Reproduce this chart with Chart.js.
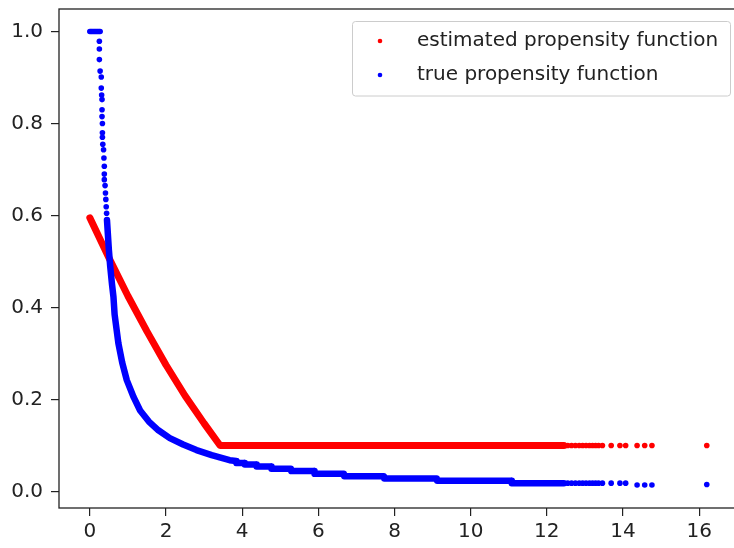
<!DOCTYPE html>
<html>
<head>
<meta charset="utf-8">
<script src="https://cdn.jsdelivr.net/npm/chart.js@4/dist/chart.umd.min.js"></script>
<style>
  html, body { margin: 0; padding: 0; background: #fff; overflow: hidden; }
  #wrap { position: relative; width: 742px; height: 548px; }
</style>
</head>
<body>
<div id="wrap"><canvas id="c"></canvas></div>
<script>
// ---- data ----
const seriesNames = ['estimated propensity function', 'true propensity function'];
const xTicks = [0, 2, 4, 6, 8, 10, 12, 14, 16];
const yTicks = [0.0, 0.2, 0.4, 0.6, 0.8, 1.0];

// estimated propensity: dense band
const redBandX = [0.0, 0.5, 1.0, 1.5, 2.0, 2.5, 3.0, 3.42, 12.45];
const redBandY = [0.595, 0.508, 0.425, 0.348, 0.275, 0.208, 0.148, 0.10, 0.10];
// estimated propensity: sparse tail points
const redDotX = [12.55, 12.65, 12.75, 12.85, 12.94, 13.03, 13.12, 13.2, 13.28, 13.36, 13.46, 13.69, 13.92, 14.07, 14.37, 14.57, 14.76, 16.2];
const redDotY = [0.10, 0.10, 0.10, 0.10, 0.10, 0.10, 0.10, 0.10, 0.10, 0.10, 0.10, 0.10, 0.10, 0.10, 0.10, 0.10, 0.10, 0.10];

// true propensity: dense band (with its visible steps)
const blueBandX = [0.45, 0.50, 0.535, 0.58, 0.62, 0.65, 0.75, 0.85, 0.97, 1.15, 1.32, 1.55, 1.8, 2.1, 2.45, 2.8, 3.2, 3.67, 3.84, 3.85, 4.06, 4.07, 4.37, 4.38, 4.76, 4.77, 5.28, 5.29, 5.89, 5.9, 6.67, 6.68, 7.72, 7.73, 9.11, 9.12, 11.07, 11.08, 12.45];
const blueBandY = [0.59, 0.525, 0.489, 0.452, 0.423, 0.385, 0.322, 0.28, 0.242, 0.205, 0.176, 0.152, 0.133, 0.116, 0.102, 0.09, 0.079, 0.068, 0.066, 0.0617, 0.0617, 0.0588, 0.0588, 0.0545, 0.0545, 0.0494, 0.0494, 0.0442, 0.0442, 0.0386, 0.0386, 0.0333, 0.0333, 0.0283, 0.0283, 0.0233, 0.0233, 0.018, 0.018];
// true propensity: separate points (top cluster, steep column, tail)
const blueDotX = [0.0, 0.03, 0.06, 0.09, 0.12, 0.15, 0.18, 0.21, 0.24, 0.27,
  0.25, 0.25, 0.25, 0.27, 0.30, 0.30, 0.31, 0.32, 0.32, 0.32, 0.33, 0.33, 0.33, 0.34, 0.36, 0.37, 0.38, 0.38, 0.38, 0.40, 0.41, 0.42, 0.43, 0.44,
  12.55, 12.65, 12.75, 12.85, 12.94, 13.03, 13.12, 13.2, 13.28, 13.36, 13.46, 13.69, 13.92, 14.07, 14.37, 14.57, 14.76, 16.2];
const blueDotY = [1.0, 1.0, 1.0, 1.0, 1.0, 1.0, 1.0, 1.0, 1.0, 1.0,
  0.979, 0.962, 0.939, 0.914, 0.901, 0.877, 0.862, 0.852, 0.830, 0.815, 0.80, 0.78, 0.77, 0.755, 0.743, 0.725, 0.707, 0.69, 0.678, 0.665, 0.649, 0.635, 0.619, 0.605,
  0.018, 0.018, 0.018, 0.018, 0.018, 0.018, 0.018, 0.018, 0.018, 0.018, 0.018, 0.018, 0.018, 0.018, 0.014, 0.014, 0.014, 0.015];

// ---- chart ----
const RED = '#ff0000', BLUE = '#0000ff';
const FONT = '"DejaVu Sans", sans-serif';
const TEXT = '#222222';
const pts = (xs, ys) => xs.map((x, i) => ({ x: x, y: ys[i] }));

const legendPlugin = {
  id: 'mplLegend',
  afterDraw(chart) {
    const ctx = chart.ctx;
    ctx.save();
    const bx = 352.5, by = 21.5, bw = 378, bh = 74.5, r = 3;
    ctx.beginPath();
    ctx.moveTo(bx + r, by);
    ctx.lineTo(bx + bw - r, by); ctx.arcTo(bx + bw, by, bx + bw, by + r, r);
    ctx.lineTo(bx + bw, by + bh - r); ctx.arcTo(bx + bw, by + bh, bx + bw - r, by + bh, r);
    ctx.lineTo(bx + r, by + bh); ctx.arcTo(bx, by + bh, bx, by + bh - r, r);
    ctx.lineTo(bx, by + r); ctx.arcTo(bx, by, bx + r, by, r);
    ctx.closePath();
    ctx.fillStyle = 'rgba(255,255,255,0.8)';
    ctx.fill();
    ctx.strokeStyle = '#cccccc';
    ctx.lineWidth = 1;
    ctx.stroke();
    const rows = [[RED, seriesNames[0], 41], [BLUE, seriesNames[1], 75]];
    ctx.font = '20px ' + FONT;
    ctx.textBaseline = 'middle';
    ctx.textAlign = 'left';
    rows.forEach(([col, label, y]) => {
      ctx.fillStyle = col;
      ctx.beginPath(); ctx.arc(380, y, 2.3, 0, Math.PI * 2); ctx.fill();
      ctx.fillStyle = TEXT;
      ctx.fillText(label, 417, y);
    });
    ctx.restore();
  }
};

const framePlugin = {
  id: 'frame',
  afterDatasetsDraw(chart) {
    const { ctx, chartArea: a } = chart;
    ctx.save();
    ctx.strokeStyle = TEXT;
    ctx.lineWidth = 1.3;
    ctx.strokeRect(a.left, a.top, a.right - a.left, a.bottom - a.top);
    ctx.restore();
  }
};

new Chart(document.getElementById('c'), {
  type: 'scatter',
  data: {
    datasets: [
      { label: seriesNames[1], data: pts(blueBandX, blueBandY), showLine: true, borderColor: BLUE, backgroundColor: BLUE,
        borderWidth: 6.5, pointRadius: 0, borderCapStyle: 'round', borderJoinStyle: 'round', tension: 0, order: 0 },
      { label: seriesNames[1], data: pts(blueDotX, blueDotY), showLine: false, backgroundColor: BLUE, borderColor: BLUE,
        pointRadius: 2.8, borderWidth: 0, order: 0 },
      { label: seriesNames[0], data: pts(redBandX, redBandY), showLine: true, borderColor: RED, backgroundColor: RED,
        borderWidth: 7, pointRadius: 0, borderCapStyle: 'round', borderJoinStyle: 'round', tension: 0, order: 1 },
      { label: seriesNames[0], data: pts(redDotX, redDotY), showLine: false, backgroundColor: RED, borderColor: RED,
        pointRadius: 2.8, borderWidth: 0, order: 1 }
    ]
  },
  options: {
    responsive: true,
    maintainAspectRatio: false,
    animation: false,
    events: [],
    layout: { padding: { top: 9, right: 0, bottom: 0, left: 0 } },
    plugins: { legend: { display: false }, tooltip: { enabled: false } },
    scales: {
      x: {
        type: 'linear', min: -0.81, max: 17.02,
        afterBuildTicks: s => { s.ticks = xTicks.map(v => ({ value: v })); },
        afterFit: s => { s.height = 40; s.paddingLeft = 0; s.paddingRight = 0; },
        grid: { display: true, drawOnChartArea: false, drawTicks: true, tickLength: 8, color: TEXT, lineWidth: 1.2 },
        border: { display: false },
        ticks: { padding: 4, color: TEXT, font: { family: FONT, size: 20 }, maxRotation: 0,
                 callback: v => String(v) }
      },
      y: {
        type: 'linear', min: -0.036, max: 1.049,
        afterBuildTicks: s => { s.ticks = yTicks.map(v => ({ value: v })); },
        afterFit: s => { s.width = 59; s.paddingTop = 0; s.paddingBottom = 0; },
        grid: { display: true, drawOnChartArea: false, drawTicks: true, tickLength: 8, color: TEXT, lineWidth: 1.2 },
        border: { display: false },
        ticks: { padding: 8, color: TEXT, font: { family: FONT, size: 20 },
                 callback: v => Number(v).toFixed(1) }
      }
    }
  },
  plugins: [legendPlugin, framePlugin]
});
</script>
</body>
</html>
